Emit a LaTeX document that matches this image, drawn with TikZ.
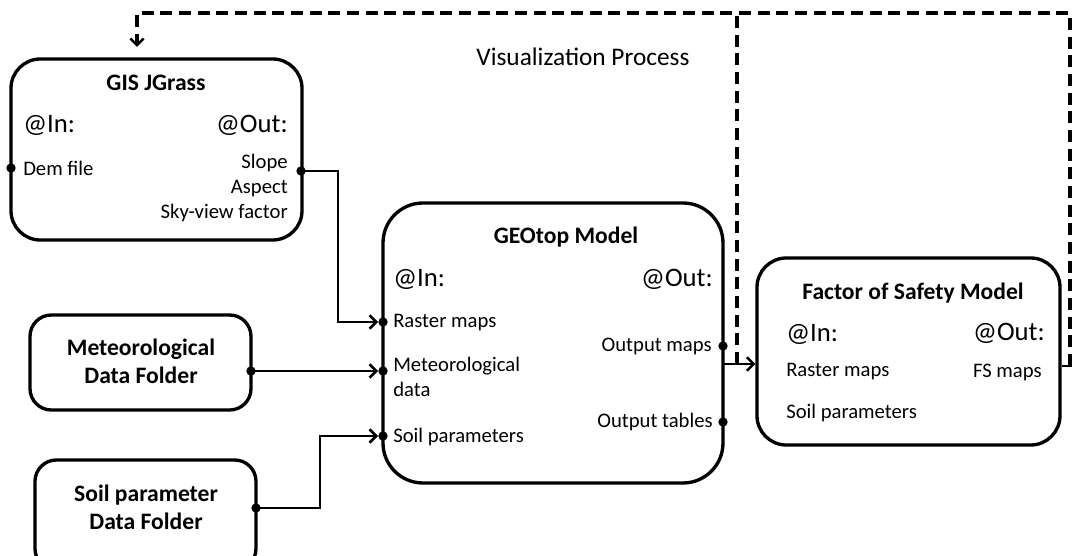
\documentclass[tikz,border=0pt]{standalone}
\usepackage{fontspec}
\setmainfont{Carlito}
\usetikzlibrary{arrows.meta}
\begin{document}
\begin{tikzpicture}[x=0.75pt,y=-0.75pt,
  box/.style={draw, line width=2.5pt, inner sep=0pt},
  dot/.style={circle, fill, inner sep=0pt, minimum size=7pt},
  conn/.style={line width=1.9pt},
  arr/.style={conn, -{Straight Barb[length=5pt,width=10pt]}},
  fb/.style={line width=2.4pt, dash pattern=on 9pt off 5pt},
  sm/.style={font=\fontsize{15.5}{18.75}\selectfont, inner sep=0pt},
  big/.style={font=\fontsize{20}{24}\selectfont, inner sep=0pt},
  ttl/.style={font=\fontsize{17.7}{21}\selectfont\bfseries, inner sep=0pt, align=center},
  lab/.style={font=\fontsize{19}{23}\selectfont, inner sep=0pt}
]
\useasboundingbox (0,0) rectangle (1072,556);
\clip (0,0) rectangle (1072,556);

% boxes
\node[box, rounded corners=22pt, minimum width=218.25pt, minimum height=135.75pt] (gis) at (156.5,149.5) {};
\node[box, rounded corners=30pt, minimum width=255pt, minimum height=210pt] (geo) at (553,343) {};
\node[box, rounded corners=22pt, minimum width=227.25pt, minimum height=140.25pt] (fs) at (908.5,351.5) {};
\node[box, rounded corners=16pt, minimum width=165.75pt, minimum height=71.25pt] (met) at (140.5,362.5) {};
\node[box, rounded corners=16pt, minimum width=165.75pt, minimum height=82.5pt] (soil) at (145.5,515) {};

% titles
\node[ttl] (gist) at (156,83) {GIS JGrass};
\node[ttl] (geot) at (566,237) {GEOtop Model};
\node[ttl] (fst) at (913,293) {Factor of Safety Model};
\node[ttl] (mett) at (141,361) {Meteorological\\Data Folder};
\node[ttl] (soilt) at (146,507) {Soil parameter\\Data Folder};
\node[lab] (vis) at (583,57) {Visualization Process};

% GIS labels
\node[big, anchor=west] (gisin) at (23,125) {@In:};
\node[big, anchor=east] (gisout) at (288,125) {@Out:};
\node[sm, anchor=west] (dem) at (23,168) {Dem file};
\node[sm, anchor=east, align=right] (gisouts) at (288,188) {Slope\\Aspect\\Sky-view factor};
\node[dot] (demdot) at (11,168) {};
\node[dot] (gisodot) at (301,171) {};

% GEOtop labels
\node[big, anchor=west] (geoin) at (393,279) {@In:};
\node[big, anchor=east] (geoout) at (713,279) {@Out:};
\node[sm, anchor=west] (geor) at (393,323) {Raster maps};
\node[sm, anchor=west, align=left] (geom) at (393,377) {Meteorological\\data};
\node[sm, anchor=west] (geos) at (393,437) {Soil parameters};
\node[sm, anchor=east] (geoom) at (712,346) {Output maps};
\node[sm, anchor=east] (geoot) at (713,422) {Output tables};
\node[dot] (rdot) at (383,322) {};
\node[dot] (mdot) at (383,371) {};
\node[dot] (sdot) at (383,436) {};
\node[dot] (omdot) at (723,346) {};
\node[dot] (otdot) at (723,422) {};

% FS labels
\node[big, anchor=west] (fsin) at (786,334) {@In:};
\node[big, anchor=east] (fsout) at (1045,333) {@Out:};
\node[sm, anchor=west] (fsr) at (786,372) {Raster maps};
\node[sm, anchor=east] (fsm) at (1042,372) {FS maps};
\node[sm, anchor=west] (fss) at (786,413) {Soil parameters};

% folder dots
\node[dot] (metdot) at (251,371) {};
\node[dot] (soildot) at (256,508) {};

% connectors
\draw[arr] (gisodot.center) -- (338,171) |- (rdot.west);
\draw[arr] (metdot.center) -- (mdot.west);
\draw[arr] (soildot.center) -- (320,508) |- (sdot.west);
\coordinate (geoexit) at (723,364);
\coordinate (fsfb) at (1072,366);
\coordinate (midfb) at (737,364);
\coordinate (gisfb) at (137,47);
\draw[arr] (geoexit) -- (fs.west |- geoexit);
\draw[conn] (fs.east |- fsfb) -- (fsfb);
\draw[fb, -{Straight Barb[length=5pt,width=10pt,line width=1.9pt]}] (1070,366) -- (1070,13) -- (137,13) -- (gisfb);
\draw[fb] (midfb) -- (737,13);
\end{tikzpicture}
\end{document}
